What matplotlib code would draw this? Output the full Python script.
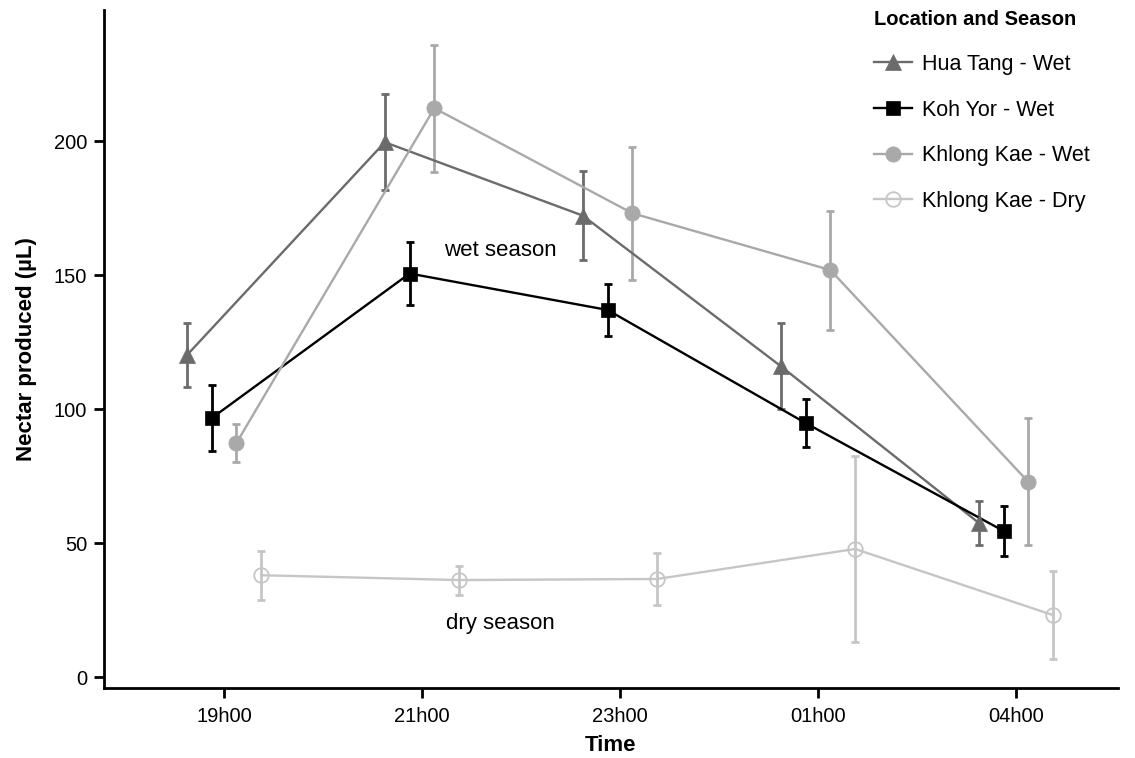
import numpy as np
import matplotlib.pyplot as plt
from matplotlib.lines import Line2D

plt.rcParams['font.family'] = ['Liberation Sans', 'DejaVu Sans']

# time points on the x axis
times = ['19h00', '21h00', '23h00', '01h00', '04h00']

# mean nectar volume (uL) and error (+/-) per site and season
hua_tang_wet = [120.1, 199.6, 172.2, 116.0, 57.5]
hua_tang_wet_err = [12.0, 18.0, 16.6, 16.0, 8.2]

koh_yor_wet = [96.6, 150.6, 137.0, 94.8, 54.5]
koh_yor_wet_err = [12.3, 11.7, 9.7, 8.8, 9.5]

khlong_kae_wet = [87.3, 212.3, 173.1, 151.9, 72.8]
khlong_kae_wet_err = [7.1, 23.7, 24.8, 22.2, 23.7]

khlong_kae_dry = [38.0, 36.2, 36.6, 47.8, 23.1]
khlong_kae_dry_err = [9.2, 5.4, 9.6, 34.7, 16.5]

# name, means, errors, colour, marker, marker size, filled
series = [
    ('Hua Tang - Wet', hua_tang_wet, hua_tang_wet_err, '#6b6b6b', '^', 12, True),
    ('Koh Yor - Wet', koh_yor_wet, koh_yor_wet_err, '#000000', 's', 10, True),
    ('Khlong Kae - Wet', khlong_kae_wet, khlong_kae_wet_err, '#a9a9a9', 'o', 11, True),
    ('Khlong Kae - Dry', khlong_kae_dry, khlong_kae_dry_err, '#c6c6c6', 'o', 10.5, False),
]
# dodge so the series don't sit on top of each other
offsets = [-0.1875, -0.0625, 0.0625, 0.1875]

fig = plt.figure(figsize=(11.35, 7.58), dpi=100)
ax = fig.add_axes([0.0916, 0.0923, 0.8934, 0.8947])

x = np.arange(len(times))
handles = []
for (name, vals, err, col, mk, ms, filled), off in zip(series, offsets):
    xs = x + off
    ax.errorbar(xs, vals, yerr=err, fmt='none', ecolor=col, elinewidth=2.0,
                capsize=3, capthick=2.0, zorder=2)
    ax.plot(xs, vals, color=col, lw=1.7, zorder=3)
    style = dict(marker=mk, markersize=ms,
                 markerfacecolor=col if filled else 'none',
                 markeredgecolor=col,
                 markeredgewidth=1.3 if not filled else 0.5)
    ax.plot(xs, vals, linestyle='none', zorder=4, **style)
    handles.append(Line2D([], [], color=col, lw=1.7, label=name, **style))

ax.text(1.394, 159.3, 'wet season', fontsize=16, ha='center', va='center')
ax.text(1.394, 19.8, 'dry season', fontsize=16, ha='center', va='center')

ax.set_xlim(-0.606, 4.515)
ax.set_ylim(-4.1, 249)
ax.set_xticks(x)
ax.set_xticklabels(times)
ax.set_yticks([0, 50, 100, 150, 200])

for side in ['top', 'right']:
    ax.spines[side].set_visible(False)
for side in ['left', 'bottom']:
    ax.spines[side].set_linewidth(2.0)
ax.tick_params(axis='both', width=2.0, length=7, labelsize=14.5, colors='black')
ax.tick_params(axis='y', pad=5)
ax.tick_params(axis='x', pad=7)

ax.set_xlabel('Time', fontsize=16, fontweight='bold', labelpad=6)
ax.set_ylabel('Nectar produced (µL)', fontsize=16, fontweight='bold', labelpad=12)

leg = fig.legend(handles=handles, title='Location and Season', loc='upper left',
                 bbox_to_anchor=(0.7700, 0.9868), frameon=False, fontsize=15.5,
                 title_fontproperties={'weight': 'bold', 'size': 14.5},
                 handlelength=1.75, handletextpad=0.5, labelspacing=1.15,
                 borderpad=0, borderaxespad=0)
leg._legend_box.align = 'left'

fig.savefig('out.png', dpi=100)
